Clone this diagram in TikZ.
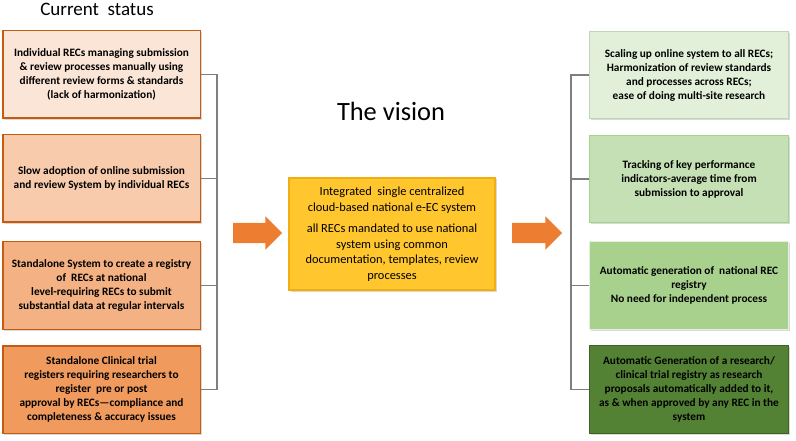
\documentclass[tikz,border=0pt]{standalone}
\usepackage{fontspec}
\setmainfont{Carlito}
\usetikzlibrary{shapes.arrows}
\usetikzlibrary{shadows}
\usepackage{xcolor}
\definecolor{peachA}{HTML}{FBE5D6}
\definecolor{peachB}{HTML}{F8CBAD}
\definecolor{peachC}{HTML}{F4B183}
\definecolor{peachD}{HTML}{F09A5D}
\definecolor{rust}{HTML}{C55A11}
\definecolor{greenA}{HTML}{E2F0D9}
\definecolor{greenB}{HTML}{C5E0B4}
\definecolor{greenC}{HTML}{A9D18E}
\definecolor{greenD}{HTML}{548235}
\definecolor{gold}{HTML}{FFC62E}
\definecolor{goldline}{HTML}{F0AE12}
\definecolor{arroworange}{HTML}{ED7D31}
\definecolor{busgray}{HTML}{7F7F7F}

\begin{document}
\begin{tikzpicture}[x=1pt, y=-1pt,
    statusbox/.style = {draw=rust, line width=1.5pt, fill=#1,
                minimum width=197.5pt, minimum height=87.5pt, inner sep=2pt,
                align=center, font=\fontsize{11.3}{14}\selectfont\bfseries,
                drop shadow={opacity=0.3, shadow xshift=1.5pt, shadow yshift=-1.5pt}},
    visionbox/.style 2 args = {draw=#2, line width=1pt, fill=#1,
                minimum width=199pt, minimum height=87.5pt, inner sep=2pt,
                align=center, font=\fontsize{11.3}{14}\selectfont\bfseries,
                drop shadow={opacity=0.3, shadow xshift=1.5pt, shadow yshift=-1.5pt}},
    bigarrow/.style = {single arrow, fill=arroworange, inner xsep=0pt, inner ysep=10pt,
                minimum height=#1, single arrow head extend=6.5pt},
    link/.style = {draw=busgray, line width=1.5pt}
                    ]
        \useasboundingbox (0,0) rectangle (796,441);
        \def\lx{101.5}
        \def\rx{689}
        % current status column
        \node (curtitle) at (97,9) {\fontsize{19}{19}\selectfont Current\ \ status};
        \node[statusbox=peachA] (cs1) at (\lx,74.5) {Individual RECs managing submission\\ \& review processes manually using\\ different review forms \& standards\\ (lack of harmonization)};
        \node[statusbox=peachB] (cs2) at (\lx,178.5) {Slow adoption of online submission\\ and review System by individual RECs};
        \node[statusbox=peachC] (cs3) at (\lx,285.5) {Standalone System to create a registry\\ of\ \ RECs at national\\ level-requiring RECs to submit\\ substantial data at regular intervals};
        \node[statusbox=peachD] (cs4) at (\lx,389.5) {Standalone Clinical trial\\ registers requiring researchers to\\ register\ \ pre or post\\ approval by RECs—compliance and\\ completeness \& accuracy issues};
        % the vision
        \node (vistitle) at (391,111) {\fontsize{26.4}{26.4}\selectfont The vision};
        \node[draw=goldline, line width=1.5pt, fill=gold, minimum width=206pt, minimum height=112pt,
              align=center, font=\fontsize{12.4}{15.5}\selectfont,
              drop shadow={opacity=0.3, shadow xshift=1.5pt, shadow yshift=-1.5pt}] (vision) at (392,234)
              {Integrated\ \ single centralized\\ cloud-based national e-EC system\\[6pt] all RECs mandated to use national\\ system using common\\ documentation, templates, review\\ processes};
        \node[bigarrow=49pt] (arrL) at (252.5,233) {};
        \node[bigarrow=50pt] (arrR) at (532,233) {};
        % outcomes column
        \node[visionbox={greenA}{greenA!85!black!60!greenB}] (ev1) at (\rx,75) {Scaling up online system to all RECs;\\ Harmonization of review standards\\ and processes across RECs;\\ ease of doing multi-site research};
        \node[visionbox={greenB}{greenC}] (ev2) at (\rx,179) {Tracking of key performance\\ indicators-average time from\\ submission to approval};
        \node[visionbox={greenC}{white!70!greenC}] (ev3) at (\rx,285.5) {Automatic generation of\ \ national REC\\ registry\\ No need for independent process};
        \node[visionbox={greenD}{greenD!75!black}] (ev4) at (\rx,389.5) {Automatic Generation of a research/\\ clinical trial registry as research\\ proposals automatically added to it,\\ as \& when approved by any REC in the\\ system};
        % connectors
        \coordinate (lbus) at (217,0);
        \coordinate (rbus) at (571,0);
        \draw[link] (cs1.east) -- (cs1.east -| lbus) -- (cs4.east -| lbus) -- (cs4.east);
        \foreach \i in {2,3}
            \draw[link] (cs\i.east) -- (cs\i.east -| lbus);
        \draw[link] (ev1.west) -- (ev1.west -| rbus) -- (ev4.west -| rbus) -- (ev4.west);
        \foreach \i in {2,3}
            \draw[link] (ev\i.west) -- (ev\i.west -| rbus);
    \end{tikzpicture}
\end{document}
